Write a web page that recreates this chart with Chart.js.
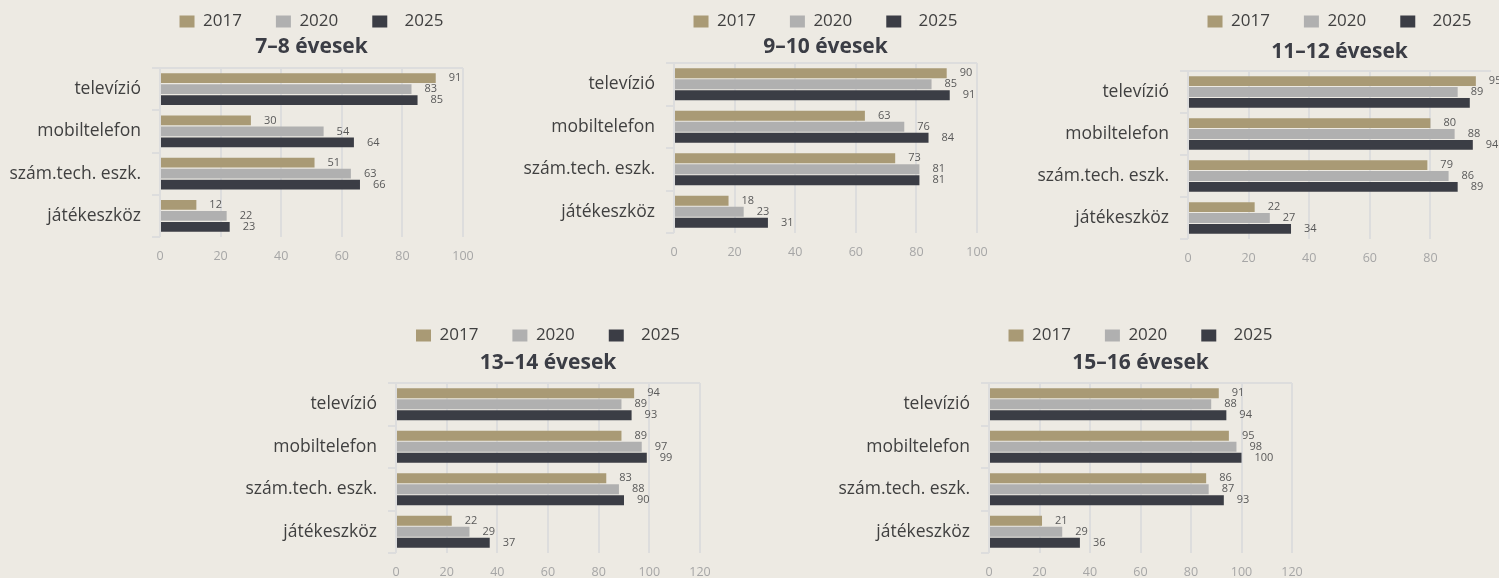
<!DOCTYPE html>
<html lang="hu">
<head>
<meta charset="utf-8">
<script src="https://cdn.jsdelivr.net/npm/chart.js@4.4.1/dist/chart.umd.min.js"></script>
<style>
  html, body { margin: 0; padding: 0; width: 1499px; height: 578px; overflow: hidden; background: #edeae3; }
  .doboz { position: absolute; }
</style>
</head>
<body>
<div class="doboz" id="d0"><canvas id="c0"></canvas></div>
<div class="doboz" id="d1"><canvas id="c1"></canvas></div>
<div class="doboz" id="d2"><canvas id="c2"></canvas></div>
<div class="doboz" id="d3"><canvas id="c3"></canvas></div>
<div class="doboz" id="d4"><canvas id="c4"></canvas></div>
<script>
// adatok
const kategoriak = ['televízió', 'mobiltelefon', 'szám.tech. eszk.', 'játékeszköz'];
const evek = ['2017', '2020', '  2025'];
const cimek = ['7–8 évesek', '9–10 évesek', '11–12 évesek', '13–14 évesek', '15–16 évesek'];

const kor78_2017 = [91, 30, 51, 12];
const kor78_2020 = [83, 54, 63, 22];
const kor78_2025 = [85, 64, 66, 23];

const kor910_2017 = [90, 63, 73, 18];
const kor910_2020 = [85, 76, 81, 23];
const kor910_2025 = [91, 84, 81, 31];

const kor1112_2017 = [95, 80, 79, 22];
const kor1112_2020 = [89, 88, 86, 27];
const kor1112_2025 = [93, 94, 89, 34];

const kor1314_2017 = [94, 89, 83, 22];
const kor1314_2020 = [89, 97, 88, 29];
const kor1314_2025 = [93, 99, 90, 37];

const kor1516_2017 = [91, 95, 86, 21];
const kor1516_2020 = [88, 98, 87, 29];
const kor1516_2025 = [94, 100, 93, 36];

const xMaxok = [100, 100, 100, 120, 120];

const sorozatok = [
    [kor78_2017, kor78_2020, kor78_2025],
    [kor910_2017, kor910_2020, kor910_2025],
    [kor1112_2017, kor1112_2020, kor1112_2025],
    [kor1314_2017, kor1314_2020, kor1314_2025],
    [kor1516_2017, kor1516_2020, kor1516_2025]
];

// elrendezés: jelmagyarázat közepe, cím közepe, rajzterület teteje/alja, bal széle, szélessége
const elrendezes = [
    { leg: 21.5, cim: 47.5, fent: 68, lent: 237, bal: 160, szel: 303 },
    { leg: 21.5, cim: 46.7, fent: 63, lent: 233, bal: 674, szel: 303 },
    { leg: 21.5, cim: 51.8, fent: 71, lent: 239, bal: 1188, szel: 303, levag: true, rejtett: [[2, 0]] },
    { leg: 335, cim: 362.8, fent: 383, lent: 553, bal: 396, szel: 304 },
    { leg: 335, cim: 362.8, fent: 383, lent: 553, bal: 989, szel: 303 }
];

const szinek = ['#a99a75', '#b0b0b0', '#3b3d45'];
const racsSzin = '#dddddd';
const BETU = "'Open Sans', 'Noto Sans', sans-serif";
const TENGELY = 170;   // y tengely szélessége
const LEG_PAD = 34;
const LEG_BETU = 17;
const CIM_BETU = 21;

// értékcímkék a sávok végén
const ertekCimkek = {
    id: 'ertekCimkek',
    afterDatasetsDraw(chart, args, opts) {
        const ctx = chart.ctx;
        ctx.save();
        ctx.font = '11px ' + BETU;
        ctx.fillStyle = '#595959';
        ctx.textAlign = 'left';
        ctx.textBaseline = 'middle';
        chart.data.datasets.forEach((ds, di) => {
            const meta = chart.getDatasetMeta(di);
            meta.data.forEach((el, i) => {
                if ((opts.rejtett || []).some(r => r[0] === di && r[1] === i)) return;
                ctx.fillText(ds.data[i], el.x + 13, el.y);
            });
        });
        ctx.restore();
    }
};

// felső vonal a rajzterület tetején
const felsoVonal = {
    id: 'felsoVonal',
    beforeDatasetsDraw(chart) {
        const a = chart.chartArea;
        const ctx = chart.ctx;
        ctx.save();
        ctx.strokeStyle = racsSzin;
        ctx.lineWidth = 2;
        ctx.beginPath();
        ctx.moveTo(a.left - 8, a.top);
        ctx.lineTo(a.right, a.top);
        ctx.stroke();
        ctx.restore();
    }
};

document.addEventListener('DOMContentLoaded', function() {
    elrendezes.forEach((e, k) => {
        const vaszonFent = Math.round(e.leg - (LEG_PAD + LEG_BETU / 2));
        const legAlja = vaszonFent + LEG_BETU + LEG_PAD + 10;
        const cimFent = e.cim - CIM_BETU / 2 - legAlja;
        const cimLent = e.fent - legAlja - cimFent - CIM_BETU;
        const doboz = document.getElementById('d' + k);
        doboz.style.left = (e.bal - TENGELY) + 'px';
        doboz.style.top = vaszonFent + 'px';
        doboz.style.width = (TENGELY * 2 + e.szel) + 'px';
        doboz.style.height = (e.lent + 40 - vaszonFent) + 'px';

        new Chart(document.getElementById('c' + k), {
            type: 'bar',
            data: {
                labels: kategoriak,
                datasets: sorozatok[k].map((d, j) => ({
                    label: evek[j],
                    data: d,
                    backgroundColor: szinek[j],
                    categoryPercentage: 0.78,
                    barPercentage: 0.9
                }))
            },
            options: {
                indexAxis: 'y',
                responsive: true,
                maintainAspectRatio: false,
                animation: false,
                scales: {
                    x: {
                        min: 0, max: xMaxok[k],
                        afterFit: s => { s.height = 40; s.paddingRight = TENGELY; },
                        ticks: {
                            stepSize: 20, maxRotation: 0, padding: 12,
                            color: '#a6a6a6', font: { family: BETU, size: 12.5 },
                            callback: v => (e.levag && v === 100) ? '' : v
                        },
                        grid: {
                            drawTicks: false, lineWidth: 2,
                            color: c => (e.levag && c.tick && c.tick.value === 100) ? 'rgba(0,0,0,0)' : racsSzin
                        },
                        border: { display: false }
                    },
                    y: {
                        afterFit: s => { s.width = TENGELY; },
                        ticks: { padding: 11, color: '#404040', font: { family: BETU, size: 17.5 } },
                        grid: { drawOnChartArea: false, drawTicks: true, tickLength: 8, lineWidth: 2, color: racsSzin },
                        border: { display: false }
                    }
                },
                plugins: {
                    legend: {
                        weight: 1000,
                        labels: {
                            boxWidth: 15, boxHeight: 12, padding: LEG_PAD,
                            color: '#404040', font: { family: BETU, size: LEG_BETU }
                        }
                    },
                    title: {
                        display: true,
                        weight: 500,
                        text: cimek[k],
                        color: '#3b3d45',
                        font: { family: BETU, size: CIM_BETU, weight: 'bold', lineHeight: 1 },
                        padding: { top: cimFent, bottom: cimLent }
                    },
                    tooltip: { enabled: false },
                    ertekCimkek: { rejtett: e.rejtett || [] }
                }
            },
            plugins: [ertekCimkek, felsoVonal]
        });
    });
});
</script>
</body>
</html>
